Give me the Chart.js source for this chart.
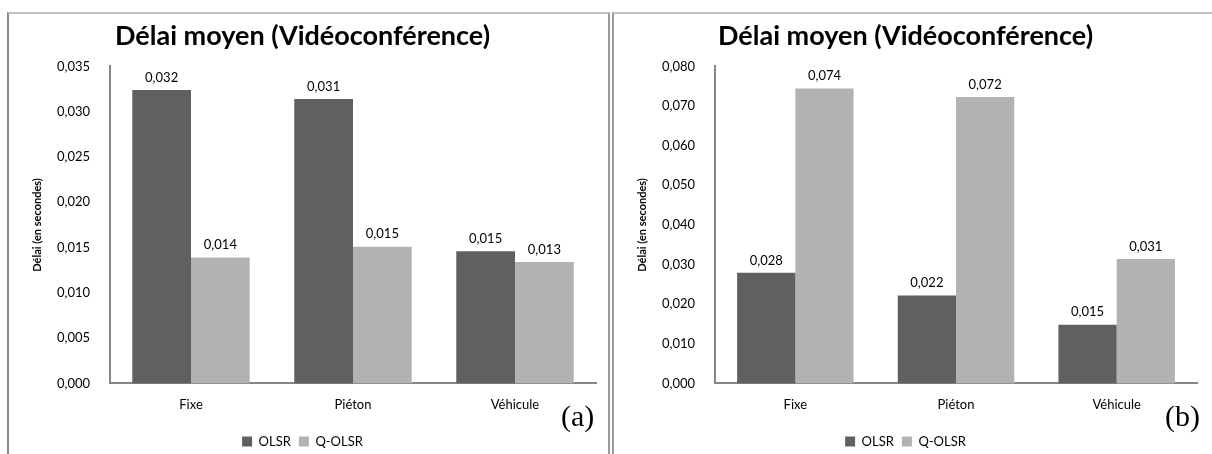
<!DOCTYPE html>
<html>
<head>
<meta charset="utf-8">
<script src="https://cdn.jsdelivr.net/npm/chart.js@4.4.0/dist/chart.umd.min.js"></script>
<style>
  html, body { margin: 0; padding: 0; background: #ffffff; }
  body { width: 1212px; height: 454px; position: relative; overflow: hidden; }
  .panel { position: absolute; box-sizing: border-box; background: #fff; }
  #p1 { left: 7px; top: 12px; width: 603px; height: 460px;
        border-left: 2px solid #8a8a8a; border-top: 2px solid #c0c0c0; border-right: 2px solid #9a9a9a; }
  #p2 { left: 612px; top: 12px; width: 620px; height: 460px;
        border-left: 2px solid #9a9a9a; border-top: 2px solid #c0c0c0; }
  .cv { position: absolute; }
  #c1 { left: 9px; top: 14px; }
  #c2 { left: 614px; top: 14px; }
  .tag { position: absolute; font-family: "Liberation Serif", "DejaVu Serif", serif; font-size: 30px; color: #000; }
</style>
</head>
<body>
<div class="panel" id="p1"></div>
<div class="panel" id="p2"></div>
<canvas id="c1" class="cv" width="596" height="444"></canvas>
<canvas id="c2" class="cv" width="598" height="444"></canvas>
<div class="tag" style="left:561px; top:399px;">(a)</div>
<div class="tag" style="left:1165px; top:399px;">(b)</div>
<script>
const categories = ["Fixe", "Piéton", "Véhicule"];
const seriesNames = ["OLSR", "Q-OLSR"];
const olsrA = [0.0324, 0.0314, 0.0146];
const qolsrA = [0.0139, 0.0151, 0.0134];
const olsrB = [0.0279, 0.0222, 0.0148];
const qolsrB = [0.0744, 0.0723, 0.0314];
const ticksA = [0, 0.005, 0.010, 0.015, 0.020, 0.025, 0.030, 0.035];
const ticksB = [0, 0.010, 0.020, 0.030, 0.040, 0.050, 0.060, 0.070, 0.080];
const chartTitle = "Délai moyen (Vidéoconférence)";
const yTitle = "Délai (en secondes)";

const FONT = "Lato, 'Open Sans', sans-serif";
const fmt3 = v => (Math.round(v * 1000) / 1000).toFixed(3).replace('.', ',');

const valueLabels = {
  id: 'valueLabels',
  afterDatasetsDraw(chart) {
    const ctx = chart.ctx;
    ctx.save();
    ctx.font = "13px " + FONT;
    ctx.fillStyle = "#000";
    ctx.textAlign = "center";
    ctx.textBaseline = "bottom";
    chart.data.datasets.forEach((ds, di) => {
      chart.getDatasetMeta(di).data.forEach((bar, i) => {
        ctx.fillText(fmt3(ds.data[i]), bar.x, bar.y - 6);
      });
    });
    ctx.restore();
  }
};

function makeChart(id, d1, d2, ticks, max, padRight) {
  return new Chart(document.getElementById(id), {
    type: 'bar',
    data: {
      labels: categories,
      datasets: [
        { label: seriesNames[0], data: d1, backgroundColor: '#606060', borderWidth: 0 },
        { label: seriesNames[1], data: d2, backgroundColor: '#b2b2b2', borderWidth: 0 }
      ]
    },
    options: {
      responsive: false,
      animation: false,
      devicePixelRatio: 1,
      layout: { padding: { left: 0, right: padRight, top: 6, bottom: 0 } },
      datasets: { bar: { categoryPercentage: 0.725, barPercentage: 1.0 } },
      plugins: {
        title: {
          display: true, text: chartTitle, color: '#000',
          font: { family: FONT, size: 27, weight: 'bold' },
          padding: { top: 0, bottom: 14 }
        },
        legend: {
          position: 'bottom',
          labels: {
            color: '#000', font: { family: FONT, size: 13 },
            boxWidth: 10, boxHeight: 10, padding: 8
          }
        },
        tooltip: { enabled: false }
      },
      scales: {
        x: {
          grid: { display: false, drawTicks: false },
          border: { display: true, color: '#868686', width: 2 },
          ticks: { color: '#000', font: { family: FONT, size: 13 }, padding: 14 }
        },
        y: {
          min: 0, max: max,
          afterFit: (axis) => { axis.width = 101; },
          afterBuildTicks: (axis) => { axis.ticks = ticks.map(v => ({ value: v })); },
          grid: { display: false, drawTicks: false },
          border: { display: true, color: '#868686', width: 2 },
          ticks: { color: '#000', font: { family: FONT, size: 13 }, padding: 20,
                   callback: (v) => fmt3(v) },
          title: { display: true, text: yTitle, color: '#000',
                   font: { family: FONT, size: 11, weight: 'bold' }, padding: { top: 22, bottom: 0 } }
        }
      }
    },
    plugins: [valueLabels]
  });
}

makeChart('c1', olsrA, qolsrA, ticksA, 0.035, 9);
makeChart('c2', olsrB, qolsrB, ticksB, 0.080, 15);
</script>
</body>
</html>
